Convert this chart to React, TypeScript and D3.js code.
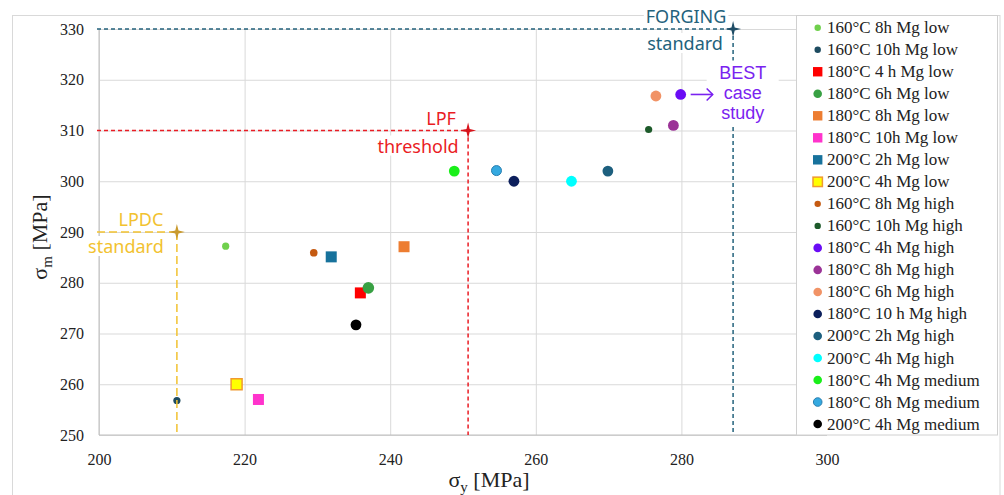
import React, { useEffect, useRef } from 'react'
import * as d3 from 'd3'

// series, in legend order
const seriesNames = [
  '160°C 8h Mg low',
  '160°C 10h Mg low',
  '180°C 4 h Mg low',
  '180°C 6h Mg low',
  '180°C 8h Mg low',
  '180°C 10h Mg low',
  '200°C 2h Mg low',
  '200°C 4h Mg low',
  '160°C 8h Mg high',
  '160°C 10h Mg high',
  '180°C 4h Mg high',
  '180°C 8h Mg high',
  '180°C 6h Mg high',
  '180°C 10 h Mg high',
  '200°C 2h Mg high',
  '200°C 4h Mg high',
  '180°C 4h Mg medium',
  '180°C 8h Mg medium',
  '200°C 4h Mg medium'
]
const yieldValues = [217.4, 210.7, 235.9, 237.0, 241.9, 221.9, 231.9, 218.9, 229.5, 275.5, 279.9, 278.9, 276.5, 257.0, 269.9, 264.9, 248.8, 254.6, 235.3]
const tensileValues = [287.2, 256.8, 278.0, 279.0, 287.1, 257.0, 285.1, 260.0, 285.9, 310.2, 317.1, 311.0, 316.8, 300.0, 302.0, 300.0, 302.0, 302.1, 271.7]
const fills = ['#6fd04c', '#1d4b60', '#ff0000', '#38a043', '#ed7d31', '#ff33cc', '#17729c', '#ffff00', '#c55a11', '#1d5a2a', '#6a0cf5', '#9b3397', '#f19366', '#0c1f5c', '#1d5f7e', '#00ffff', '#1aef1a', '#35a9e0', '#000000']
const strokes = ['none', 'none', 'none', 'none', 'none', 'none', 'none', '#f09a30', 'none', 'none', 'none', 'none', 'none', 'none', 'none', 'none', 'none', '#2a7fb0', 'none']
const shapes = ['circle', 'circle', 'square', 'circle', 'square', 'square', 'square', 'square', 'circle', 'circle', 'circle', 'circle', 'circle', 'circle', 'circle', 'circle', 'circle', 'circle', 'circle']
const markerSizes = [3.6, 3.6, 5.5, 5.8, 5.5, 5.5, 5.5, 5.5, 3.8, 3.6, 5.4, 5.4, 5.4, 5.4, 5.4, 5.4, 5.4, 5.0, 5.4]

const xTicks = [200, 220, 240, 260, 280, 300]
const yTicks = [250, 260, 270, 280, 290, 300, 310, 320, 330]

// reference standards
const refNames = ['LPDC', 'LPF', 'FORGING']
const refSubs = ['standard', 'threshold', 'standard']
const refX = [210.7, 250.7, 287.1]
const refY = [290, 310, 330]
const refColours = ['#f2c230', '#ea1c24', '#23627c']
const refStarColours = ['#c99a2e', '#d8141c', '#1f4d66']
const refDash = ['8,4', '4,3', '4,3']

const bestIndex = 10
const bestLines = ['BEST', 'case', 'study']

const star4 = {
  draw(ctx, size) {
    const r = Math.sqrt(size)
    const k = r * 0.2
    ctx.moveTo(0, -r)
    ctx.lineTo(k, -k)
    ctx.lineTo(r, 0)
    ctx.lineTo(k, k)
    ctx.lineTo(0, r)
    ctx.lineTo(-k, k)
    ctx.lineTo(-r, 0)
    ctx.lineTo(-k, -k)
    ctx.closePath()
  }
}

const W = 1004
const H = 495
const plot = { left: 99, right: 827, top: 29, bottom: 435 }

function addMarker(g, shape, cx, cy, r, fill, stroke) {
  if (shape === 'square') {
    g.append('rect')
      .attr('x', cx - r).attr('y', cy - r)
      .attr('width', r * 2).attr('height', r * 2)
      .attr('fill', fill).attr('stroke', stroke).attr('stroke-width', stroke === 'none' ? 0 : 1.5)
  } else {
    g.append('circle')
      .attr('cx', cx).attr('cy', cy).attr('r', r)
      .attr('fill', fill).attr('stroke', stroke).attr('stroke-width', stroke === 'none' ? 0 : 1)
  }
}

function boxedText(g, x, y, str, colour, size) {
  const t = g.append('text')
    .attr('x', x).attr('y', y)
    .attr('text-anchor', 'middle')
    .attr('dominant-baseline', 'central')
    .attr('font-family', '"Noto Sans", sans-serif')
    .attr('font-size', size)
    .attr('fill', colour)
    .text(str)
  const b = (t.node() as SVGTextElement).getBBox()
  g.insert('rect', () => t.node())
    .attr('x', b.x - 2).attr('y', b.y + 2)
    .attr('width', b.width + 4).attr('height', b.height - 4)
    .attr('fill', 'white')
}

export default function App() {
  const ref = useRef<SVGSVGElement>(null)

  useEffect(() => {
    const svg = d3.select(ref.current)
    svg.selectAll('*').remove()

    const xScale = d3.scaleLinear().domain([200, 300]).range([plot.left, plot.right])
    const yScale = d3.scaleLinear().domain([250, 330]).range([plot.bottom, plot.top])

    svg.append('rect').attr('width', W).attr('height', H).attr('fill', 'white')
    svg.append('rect')
      .attr('x', 12.5).attr('y', 15.5).attr('width', 987.5).attr('height', 500)
      .attr('fill', 'none').attr('stroke', '#d9d9d9')

    // grid
    svg.append('g')
      .attr('transform', `translate(0, ${plot.bottom})`)
      .call(d3.axisBottom(xScale).tickValues(xTicks).tickSize(-(plot.bottom - plot.top)).tickPadding(19).tickFormat(d3.format('d')))
      .call(g => {
        g.select('.domain').remove()
        g.selectAll('.tick line').attr('stroke', '#d9d9d9')
        g.selectAll('.tick text').attr('font-size', 16).attr('font-family', '"Liberation Serif", serif').attr('fill', '#222')
      })
    svg.append('g')
      .attr('transform', `translate(${plot.left}, 0)`)
      .call(d3.axisLeft(yScale).tickValues(yTicks).tickSize(-(plot.right - plot.left)).tickPadding(15).tickFormat(d3.format('d')))
      .call(g => {
        g.select('.domain').remove()
        g.selectAll('.tick line').attr('stroke', '#d9d9d9')
        g.selectAll('.tick text').attr('font-size', 16).attr('font-family', '"Liberation Serif", serif').attr('fill', '#222')
      })
    svg.append('line')
      .attr('x1', plot.left).attr('x2', plot.right).attr('y1', plot.bottom).attr('y2', plot.bottom)
      .attr('stroke', '#bfbfbf')
    svg.append('line')
      .attr('x1', plot.left).attr('x2', plot.left).attr('y1', plot.top).attr('y2', plot.bottom)
      .attr('stroke', '#bfbfbf')

    // axis titles
    const xt = svg.append('text')
      .attr('x', 489).attr('y', 487)
      .attr('text-anchor', 'middle')
      .attr('font-family', '"Liberation Serif", serif').attr('font-size', 22).attr('fill', '#222')
    xt.append('tspan').text('σ')
    xt.append('tspan').attr('font-size', 15).attr('dy', 5).text('y')
    xt.append('tspan').attr('dy', -5).text(' [MPa]')
    const yt = svg.append('text')
      .attr('transform', 'translate(47, 237) rotate(-90)')
      .attr('text-anchor', 'middle')
      .attr('font-family', '"Liberation Serif", serif').attr('font-size', 22).attr('fill', '#222')
    yt.append('tspan').text('σ')
    yt.append('tspan').attr('font-size', 15).attr('dy', 5).text('m')
    yt.append('tspan').attr('dy', -5).text(' [MPa]')

    // points
    const pts = svg.append('g')
    seriesNames.forEach((name, i) => {
      addMarker(pts, shapes[i], xScale(yieldValues[i]), yScale(tensileValues[i]), markerSizes[i], fills[i], strokes[i])
    })

    // reference standards
    const refs = svg.append('g')
    refNames.forEach((name, i) => {
      const px = xScale(refX[i])
      const py = yScale(refY[i])
      refs.append('line')
        .attr('x1', plot.left - 2).attr('x2', px).attr('y1', py).attr('y2', py)
        .attr('stroke', refColours[i]).attr('stroke-width', 1.5).attr('stroke-dasharray', refDash[i])
      refs.append('line')
        .attr('x1', px).attr('x2', px).attr('y1', py).attr('y2', plot.bottom)
        .attr('stroke', refColours[i]).attr('stroke-width', 1.5).attr('stroke-dasharray', refDash[i])
      refs.append('path')
        .attr('transform', `translate(${px}, ${py})`)
        .attr('d', d3.symbol().type(star4 as any).size(64)())
        .attr('fill', refStarColours[i])
    })

    const lp = [xScale(refX[0]), yScale(refY[0])]
    boxedText(svg, lp[0] - 36, lp[1] - 13, refNames[0], refColours[0], 18)
    boxedText(svg, lp[0] - 51, lp[1] + 14, refSubs[0], refColours[0], 18)
    const lf = [xScale(refX[1]), yScale(refY[1])]
    boxedText(svg, lf[0] - 27, lf[1] - 13, refNames[1], refColours[1], 18)
    boxedText(svg, lf[0] - 50, lf[1] + 15, refSubs[1], refColours[1], 18)
    const fg = [xScale(refX[2]), yScale(refY[2])]
    boxedText(svg, fg[0] - 47, fg[1] - 13, refNames[2], refColours[2], 18)
    boxedText(svg, fg[0] - 48, fg[1] + 14, refSubs[2], refColours[2], 18)

    // best case arrow + label
    const bx = xScale(yieldValues[bestIndex])
    const by = yScale(tensileValues[bestIndex])
    const purple = '#7a22f0'
    svg.append('rect')
      .attr('x', bx + 26).attr('y', by - 34).attr('width', 72).attr('height', 64)
      .attr('fill', 'white')
    svg.append('line')
      .attr('x1', bx + 10).attr('x2', bx + 32).attr('y1', by).attr('y2', by)
      .attr('stroke', purple).attr('stroke-width', 1.6)
    svg.append('path')
      .attr('d', `M${bx + 26},${by - 6}L${bx + 32},${by}L${bx + 26},${by + 6}`)
      .attr('fill', 'none').attr('stroke', purple).attr('stroke-width', 1.6)
    bestLines.forEach((s, i) => {
      svg.append('text')
        .attr('x', bx + 62).attr('y', by - 21.8 + i * 20.3)
        .attr('text-anchor', 'middle').attr('dominant-baseline', 'central')
        .attr('font-family', '"Liberation Sans", sans-serif').attr('font-size', 18)
        .attr('fill', purple)
        .text(s)
    })

    // legend
    const lg = svg.append('g')
    lg.append('rect')
      .attr('x', 796.5).attr('y', 15.5).attr('width', 201).attr('height', 419.5)
      .attr('fill', 'white').attr('stroke', '#d0d0d0')
    seriesNames.forEach((name, i) => {
      const y = 27.7 + i * 22.02
      const r = shapes[i] === 'square' ? 4.7 : markerSizes[i] < 4 ? 3.2 : 4.3
      addMarker(lg, shapes[i], 817.7, y, r, fills[i], strokes[i])
      lg.append('text')
        .attr('x', 827).attr('y', y)
        .attr('dominant-baseline', 'central')
        .attr('font-family', '"Liberation Serif", serif').attr('font-size', 17)
        .attr('fill', '#222')
        .text(name)
    })
  }, [])

  return (
    <div style={{ position: 'fixed', left: 0, top: 0 }}>
      <svg ref={ref} width={W} height={H} />
    </div>
  )
}
